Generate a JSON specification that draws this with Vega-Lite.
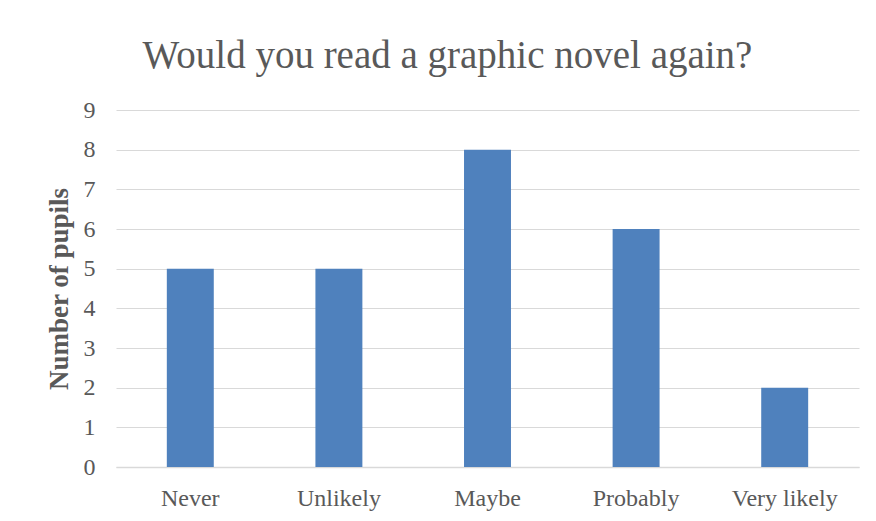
{
  "$schema": "https://vega.github.io/schema/vega-lite/v6.json",
  "autosize": "none",
  "width": 743,
  "height": 357,
  "padding": {"left": 116, "top": 110, "right": 17, "bottom": 54},
  "background": "white",
  "title": {
    "text": "Would you read a graphic novel again?",
    "font": "Liberation Serif",
    "fontSize": 39,
    "fontWeight": "normal",
    "color": "#595959",
    "anchor": "middle",
    "dx": -40,
    "offset": 22
  },
  "data": {
    "values": [
      {"answer": "Never", "pupils": 5},
      {"answer": "Unlikely", "pupils": 5},
      {"answer": "Maybe", "pupils": 8},
      {"answer": "Probably", "pupils": 6},
      {"answer": "Very likely", "pupils": 2}
    ]
  },
  "mark": {"type": "bar", "color": "#4f81bd"},
  "encoding": {
    "x": {
      "field": "answer",
      "type": "nominal",
      "sort": null,
      "scale": {"paddingInner": 0.684, "paddingOuter": 0.342},
      "axis": {
        "title": null,
        "labelAngle": 0,
        "ticks": false,
        "domain": true,
        "domainColor": "#d9d9d9",
        "domainWidth": 1.5,
        "labelPadding": 19,
        "labelFont": "Liberation Serif",
        "labelFontSize": 24,
        "labelColor": "#595959"
      }
    },
    "y": {
      "field": "pupils",
      "type": "quantitative",
      "scale": {"domain": [0, 9]},
      "axis": {
        "title": "Number of pupils",
        "titleFont": "Liberation Serif",
        "titleFontSize": 27,
        "titleFontWeight": "bold",
        "titleColor": "#595959",
        "titlePadding": 10,
        "values": [0, 1, 2, 3, 4, 5, 6, 7, 8, 9],
        "ticks": false,
        "domain": false,
        "grid": true,
        "gridColor": "#d9d9d9",
        "gridWidth": 1.2,
        "labelPadding": 21,
        "labelFont": "Liberation Serif",
        "labelFontSize": 24,
        "labelColor": "#595959"
      }
    }
  },
  "config": {"view": {"stroke": null}}
}
